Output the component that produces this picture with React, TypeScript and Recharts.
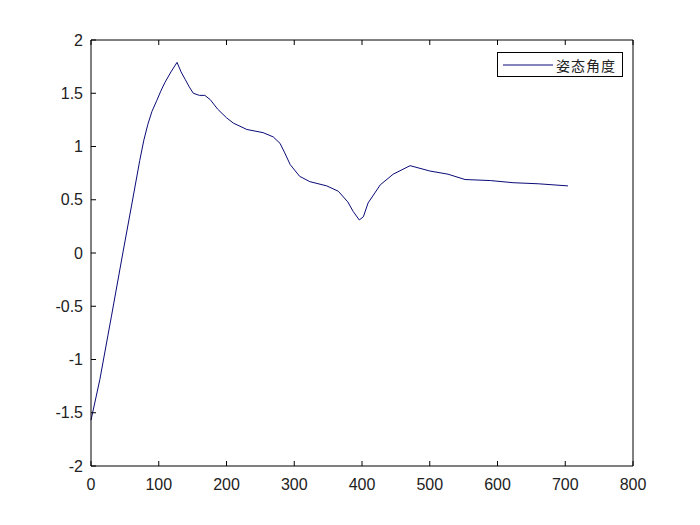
import React from "react";
import { LineChart, Line, XAxis, YAxis } from "recharts";

// sample positions and attitude angle
const xs = [
  0, 13, 30, 47, 60, 72, 78, 84, 90, 97, 103, 109, 118, 127, 133, 139, 145, 151,
  160, 168, 176, 187, 200, 210, 230, 254, 269, 279, 286, 294, 308, 323, 348,
  365, 379, 387, 396, 402, 409, 427, 446, 471, 500, 527, 552, 590, 623, 660,
  704,
];
const angle = [
  -1.57, -1.19, -0.6, 0, 0.45, 0.87, 1.06, 1.21, 1.33, 1.43, 1.52, 1.6, 1.7,
  1.79, 1.7, 1.63, 1.56, 1.5, 1.48, 1.48, 1.44, 1.35, 1.27, 1.22, 1.16, 1.13,
  1.09, 1.03, 0.94, 0.83, 0.72, 0.67, 0.63, 0.58, 0.48, 0.39, 0.31, 0.34, 0.47,
  0.64, 0.74, 0.82, 0.77, 0.74, 0.69, 0.68, 0.66, 0.65, 0.63,
];
const xTicks = [0, 100, 200, 300, 400, 500, 600, 700, 800];
const yTicks = [-2, -1.5, -1, -0.5, 0, 0.5, 1, 1.5, 2];
const seriesName = "姿态角度";

const data = xs.map((x, i) => ({ x, y: angle[i] }));

const font = "Arial, 'Liberation Sans', sans-serif";
const LINE_COLOR = "#0a0a78";

function LegendBox() {
  return (
    <div
      style={{
        position: "absolute",
        left: 497,
        top: 52,
        width: 124,
        height: 23,
        border: "1px solid #000",
        background: "#fff",
        display: "flex",
        alignItems: "center",
      }}
    >
      <svg width={58} height={23}>
        <line x1={5} x2={55} y1={12} y2={12} stroke={LINE_COLOR} strokeWidth={1} />
      </svg>
      <span
        style={{
          fontFamily: "'Noto Sans CJK SC', sans-serif",
          fontSize: 14,
          color: "#222",
          letterSpacing: 1,
        }}
      >
        {seriesName}
      </span>
    </div>
  );
}

export default function App() {
  const tickStyle = { fill: "#222", fontSize: 16, fontFamily: font };
  return (
    <div
      style={{
        position: "absolute",
        left: 0,
        top: 0,
        width: 700,
        height: 525,
        background: "#fff",
      }}
    >
      <LineChart
        width={700}
        height={525}
        data={data}
        margin={{ top: 30, right: 57, bottom: 29, left: 0 }}
      >
        <XAxis
          dataKey="x"
          type="number"
          domain={[0, 800]}
          ticks={xTicks}
          height={30}
          tickSize={-5}
          tickMargin={18}
          axisLine={{ stroke: "#000" }}
          tickLine={{ stroke: "#000" }}
          tick={tickStyle}
        />
        <XAxis
          xAxisId="top"
          orientation="top"
          dataKey="x"
          type="number"
          domain={[0, 800]}
          ticks={xTicks}
          height={10}
          tickSize={-5}
          tickFormatter={() => ""}
          axisLine={{ stroke: "#000" }}
          tickLine={{ stroke: "#000" }}
        />
        <YAxis
          type="number"
          domain={[-2, 2]}
          ticks={yTicks}
          width={91}
          tickSize={-5}
          tickMargin={13}
          axisLine={{ stroke: "#000" }}
          tickLine={{ stroke: "#000" }}
          tick={tickStyle}
        />
        <YAxis
          yAxisId="right"
          orientation="right"
          type="number"
          domain={[-2, 2]}
          ticks={yTicks}
          width={10}
          tickSize={-5}
          tickFormatter={() => ""}
          axisLine={{ stroke: "#000" }}
          tickLine={{ stroke: "#000" }}
        />
        <Line
          dataKey="y"
          name={seriesName}
          type="linear"
          stroke={LINE_COLOR}
          strokeWidth={1}
          dot={false}
          isAnimationActive={false}
        />
      </LineChart>
      <LegendBox />
    </div>
  );
}
